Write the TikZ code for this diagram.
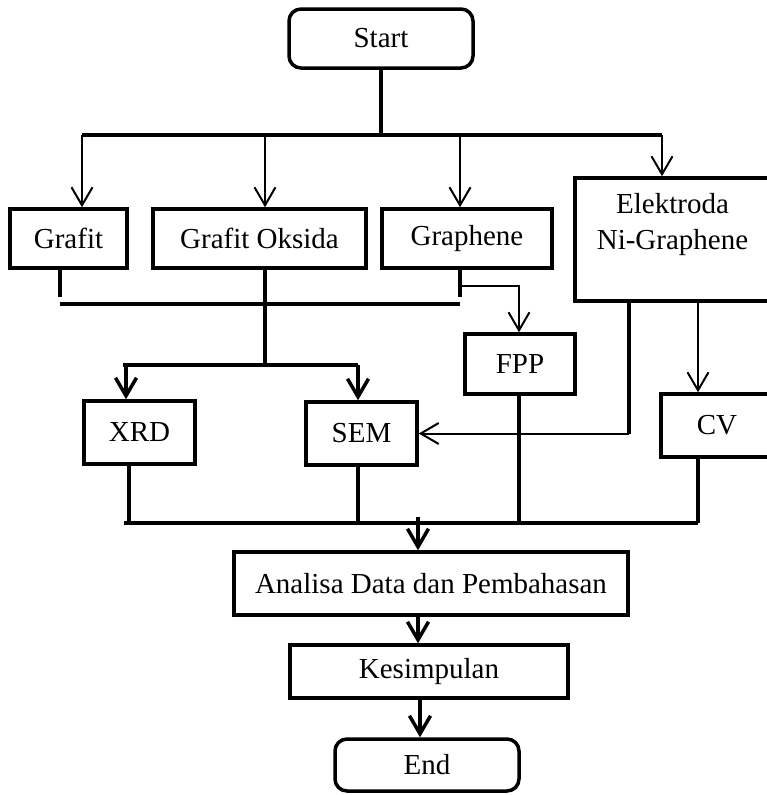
\documentclass[tikz,border=0pt]{standalone}
\usepackage{fontspec}
\setmainfont{Liberation Serif}
\usetikzlibrary{arrows.meta,calc}

\tikzset{
	box/.style={draw, rectangle, line width=3.5pt, inner sep=0pt, align=center, font=\fontsize{29}{36}\selectfont},
	tbox/.style={box, rounded corners=12pt},
	flow/.style={line width=2pt},
	bus/.style={line width=3.5pt},
	tip/.style={-{Straight Barb[length=18pt,width=21pt]}}
}

\begin{document}
\begin{tikzpicture}[x=1pt, y=-1pt]
	\useasboundingbox (0,0) rectangle (767,795);
	\clip (0,0) rectangle (767,795);

	\node[tbox, minimum width=184pt, minimum height=59pt] (start) at (381,38.5) {Start};
	\node[box, minimum width=117pt, minimum height=59pt] (grafit) at (68.5,238.5) {Grafit};
	\node[box, minimum width=213pt, minimum height=59pt] (oksida) at (259.5,238.5) {Grafit Oksida};
	\node[box, minimum width=170pt, minimum height=59pt] (graphene) at (467,238.5) {Graphene};
	\node[box, minimum width=195pt, minimum height=123pt] (elek) at (672.5,239.5) {Elektroda\\Ni-Graphene\\~};
	\node[box, minimum width=110pt, minimum height=60pt] (fpp) at (520,364) {FPP};
	\node[box, minimum width=111pt, minimum height=63pt] (xrd) at (139.5,432.5) {XRD};
	\node[box, minimum width=111pt, minimum height=63pt] (sem) at (361.5,433.5) {SEM};
	\node[box, minimum width=112pt, minimum height=63pt] (cv) at (717,425.5) {CV};
	\node[box, minimum width=394pt, minimum height=63pt] (analisa) at (431,583.5) {Analisa Data dan Pembahasan};
	\node[box, minimum width=278pt, minimum height=53pt] (kesimpulan) at (429,671.5) {Kesimpulan};
	\node[tbox, minimum width=184pt, minimum height=52pt] (end) at (427,765) {End};

	% split after start
	\coordinate (split) at (381,135);
	\coordinate (splitL) at (82,135);
	\coordinate (splitR) at (662,135);
	\draw[bus] (start) -- (split);
	\draw[bus] (splitL) -- (splitR);
	\foreach \x/\target in {82/grafit,265/oksida,460/graphene,662/elek}
		\draw[flow, tip] (\x,135) -- (\x,0 |- \target.north);

	% merge of the samples
	\coordinate (mergeL) at (60,304);
	\coordinate (mergeR) at (460,304);
	\draw[bus] (60,0 |- grafit.south) -- (60,297);
	\draw[bus] (265,0 |- oksida.south) -- (265,365);
	\draw[bus] (460,0 |- graphene.south) -- (460,297);
	\draw[bus] (mergeL) -- (mergeR);
	\draw[flow, tip] (460,286) -- (519,286) -- (519,0 |- fpp.north);

	\coordinate (testL) at (123,365);
	\coordinate (testR) at (358,365);
	\draw[bus] (testL) -- (testR);
	\draw[bus, tip] (126,365) -- (126,0 |- xrd.north);
	\draw[bus, tip] (testR) -- (358,0 |- sem.north);

	% electrode
	\draw[bus] (629,0 |- elek.south) -- (629,0 |- sem.east);
	\draw[flow, tip] (629,0 |- sem.east) -- (sem.east);
	\draw[flow, tip] (698,0 |- elek.south) -- (698,0 |- cv.north);

	% collect results
	\coordinate (collectL) at (124,523);
	\coordinate (collectR) at (698,523);
	\draw[bus] (129,0 |- xrd.south) -- (129,523);
	\draw[bus] (358,0 |- sem.south) -- (358,523);
	\draw[bus] (519,0 |- fpp.south) -- (519,525);
	\draw[bus] (cv.south -| collectR) -- (collectR);
	\draw[bus] (collectL) -- (collectR);

	\draw[bus, tip] (418,517) -- (418,0 |- analisa.north);
	\draw[bus, tip] (418,0 |- analisa.south) -- (418,0 |- kesimpulan.north);
	\draw[bus, tip] (420,0 |- kesimpulan.south) -- (420,0 |- end.north);
\end{tikzpicture}
\end{document}
